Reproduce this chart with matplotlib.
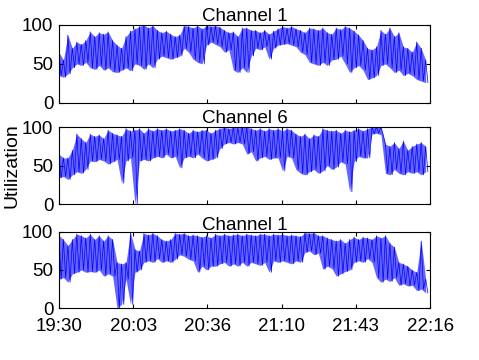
import numpy as np
import matplotlib
matplotlib.use("Agg")
import matplotlib.pyplot as plt

plt.rcParams['font.family'] = ['Liberation Sans', 'DejaVu Sans']

# time bins (minutes after 19:30), each bin has a high and a low reading
bin_start = list(range(0, 166, 2))

# top panel: Channel 1
ch1a_hi = [65, 55, 87, 70, 78, 75, 80, 91, 85, 90, 88, 91, 80, 74, 70, 85, 92, 95, 98, 100,
           96, 99, 93, 90, 92, 88, 85, 87, 99, 98, 96, 99, 95, 99, 98, 99, 97, 93, 90, 91,
           85, 96, 96, 93, 93, 90, 93, 88, 92, 95, 98, 96, 98, 95, 93, 90, 96, 95, 93, 96,
           90, 88, 96, 94, 98, 96, 92, 87, 80, 70, 68, 72, 93, 88, 96, 85, 90, 72, 70, 65,
           78, 70, 55]
ch1a_lo = [35, 33, 37, 45, 50, 48, 52, 45, 43, 48, 42, 45, 40, 39, 42, 45, 41, 50, 48, 43,
           50, 45, 56, 60, 58, 56, 58, 60, 70, 65, 56, 52, 50, 74, 78, 75, 72, 65, 68, 42,
           39, 45, 39, 60, 70, 68, 72, 56, 70, 74, 75, 76, 74, 72, 65, 62, 52, 50, 48, 52,
           48, 55, 56, 60, 50, 39, 45, 48, 42, 30, 32, 35, 48, 50, 45, 39, 42, 35, 38, 35,
           30, 28, 26]

# middle panel: Channel 6
ch6_hi = [65, 60, 60, 70, 91, 85, 80, 91, 88, 90, 85, 96, 92, 90, 88, 98, 95, 96, 98, 92,
          98, 95, 98, 96, 98, 95, 96, 98, 96, 92, 96, 94, 96, 96, 92, 96, 98, 100, 98, 100,
          99, 100, 100, 98, 96, 98, 95, 98, 96, 98, 95, 98, 96, 91, 88, 91, 85, 90, 88, 98,
          96, 95, 96, 92, 96, 94, 96, 98, 95, 98, 100, 100, 100, 78, 75, 80, 72, 82, 70, 75,
          78, 80, 75]
ch6_lo = [34, 36, 32, 38, 42, 40, 45, 56, 55, 58, 56, 52, 55, 58, 27, 56, 60, 0, 56, 58,
          56, 60, 62, 60, 65, 60, 62, 47, 60, 62, 60, 65, 60, 56, 58, 60, 72, 78, 80, 78,
          80, 78, 65, 68, 56, 60, 62, 58, 60, 60, 43, 62, 60, 45, 40, 38, 42, 45, 40, 43,
          50, 45, 48, 55, 52, 16, 55, 62, 60, 60, 91, 92, 90, 40, 38, 45, 40, 38, 42, 40,
          42, 38, 42]

# bottom panel: Channel 1
ch1b_hi = [95, 90, 82, 90, 97, 95, 92, 97, 90, 95, 88, 95, 90, 60, 58, 60, 99, 77, 75, 98,
           96, 98, 95, 90, 88, 90, 98, 97, 98, 95, 96, 95, 93, 95, 92, 97, 95, 97, 95, 96,
           97, 95, 97, 96, 95, 97, 97, 95, 97, 96, 97, 95, 96, 95, 94, 99, 98, 99, 95, 95,
           92, 90, 88, 90, 85, 90, 93, 90, 93, 92, 90, 95, 92, 95, 85, 80, 60, 58, 55, 50,
           47, 88, 38]
ch1b_lo = [38, 40, 34, 45, 47, 50, 47, 48, 47, 50, 42, 45, 42, 0, 5, 38, 5, 47, 50, 60,
           62, 60, 65, 60, 62, 60, 64, 70, 68, 64, 62, 47, 55, 50, 55, 55, 58, 60, 55, 58,
           55, 60, 55, 60, 58, 56, 60, 47, 62, 60, 62, 60, 58, 62, 60, 73, 75, 70, 72, 51,
           55, 52, 42, 45, 48, 50, 60, 62, 60, 65, 60, 40, 34, 38, 35, 40, 30, 32, 29, 30,
           23, 25, 20]

titles = ['Channel 1', 'Channel 6', 'Channel 1']
tick_labels = ['19:30', '20:03', '20:36', '21:10', '21:43', '22:16']
t_end = 166

fig = plt.figure(figsize=(4.79, 3.6), dpi=100)
boxes = [[0.123, 0.714, 0.775, 0.217],
         [0.123, 0.433, 0.775, 0.214],
         [0.123, 0.144, 0.775, 0.212]]
series = [(ch1a_hi, ch1a_lo), (ch6_hi, ch6_lo), (ch1b_hi, ch1b_lo)]

for i in range(3):
    ax = fig.add_axes(boxes[i])
    hi, lo = series[i]
    # interleave high/low readings: high at bin start, low one minute later
    t = []
    v = []
    for k in range(len(bin_start)):
        t.append(bin_start[k])
        v.append(hi[k])
        t.append(min(bin_start[k] + 1, t_end))
        v.append(lo[k])
    # band between the readings, then the trace itself
    ax.fill_between(bin_start, lo, hi, color='#0000ff', alpha=0.6, linewidth=0)
    ax.plot(t, v, color='#0000ff', linewidth=0.5)
    ax.set_xlim(0, t_end)
    ax.set_ylim(0, 100)
    ax.set_yticks([0, 50, 100])
    ax.set_xticks(np.linspace(0, t_end, 6))
    if i == 2:
        ax.set_xticklabels(tick_labels)
    else:
        ax.set_xticklabels([])
    ax.tick_params(direction='in', top=True, right=True, labelsize=13.5, length=3)
    ax.tick_params(axis='x', pad=7)
    ax.tick_params(axis='y', pad=4)
    ax.set_title(titles[i], fontsize=13.5, pad=1)
    if i == 1:
        ax.set_ylabel('Utilization', fontsize=14, labelpad=1)

fig.savefig('out.png', dpi=100)
